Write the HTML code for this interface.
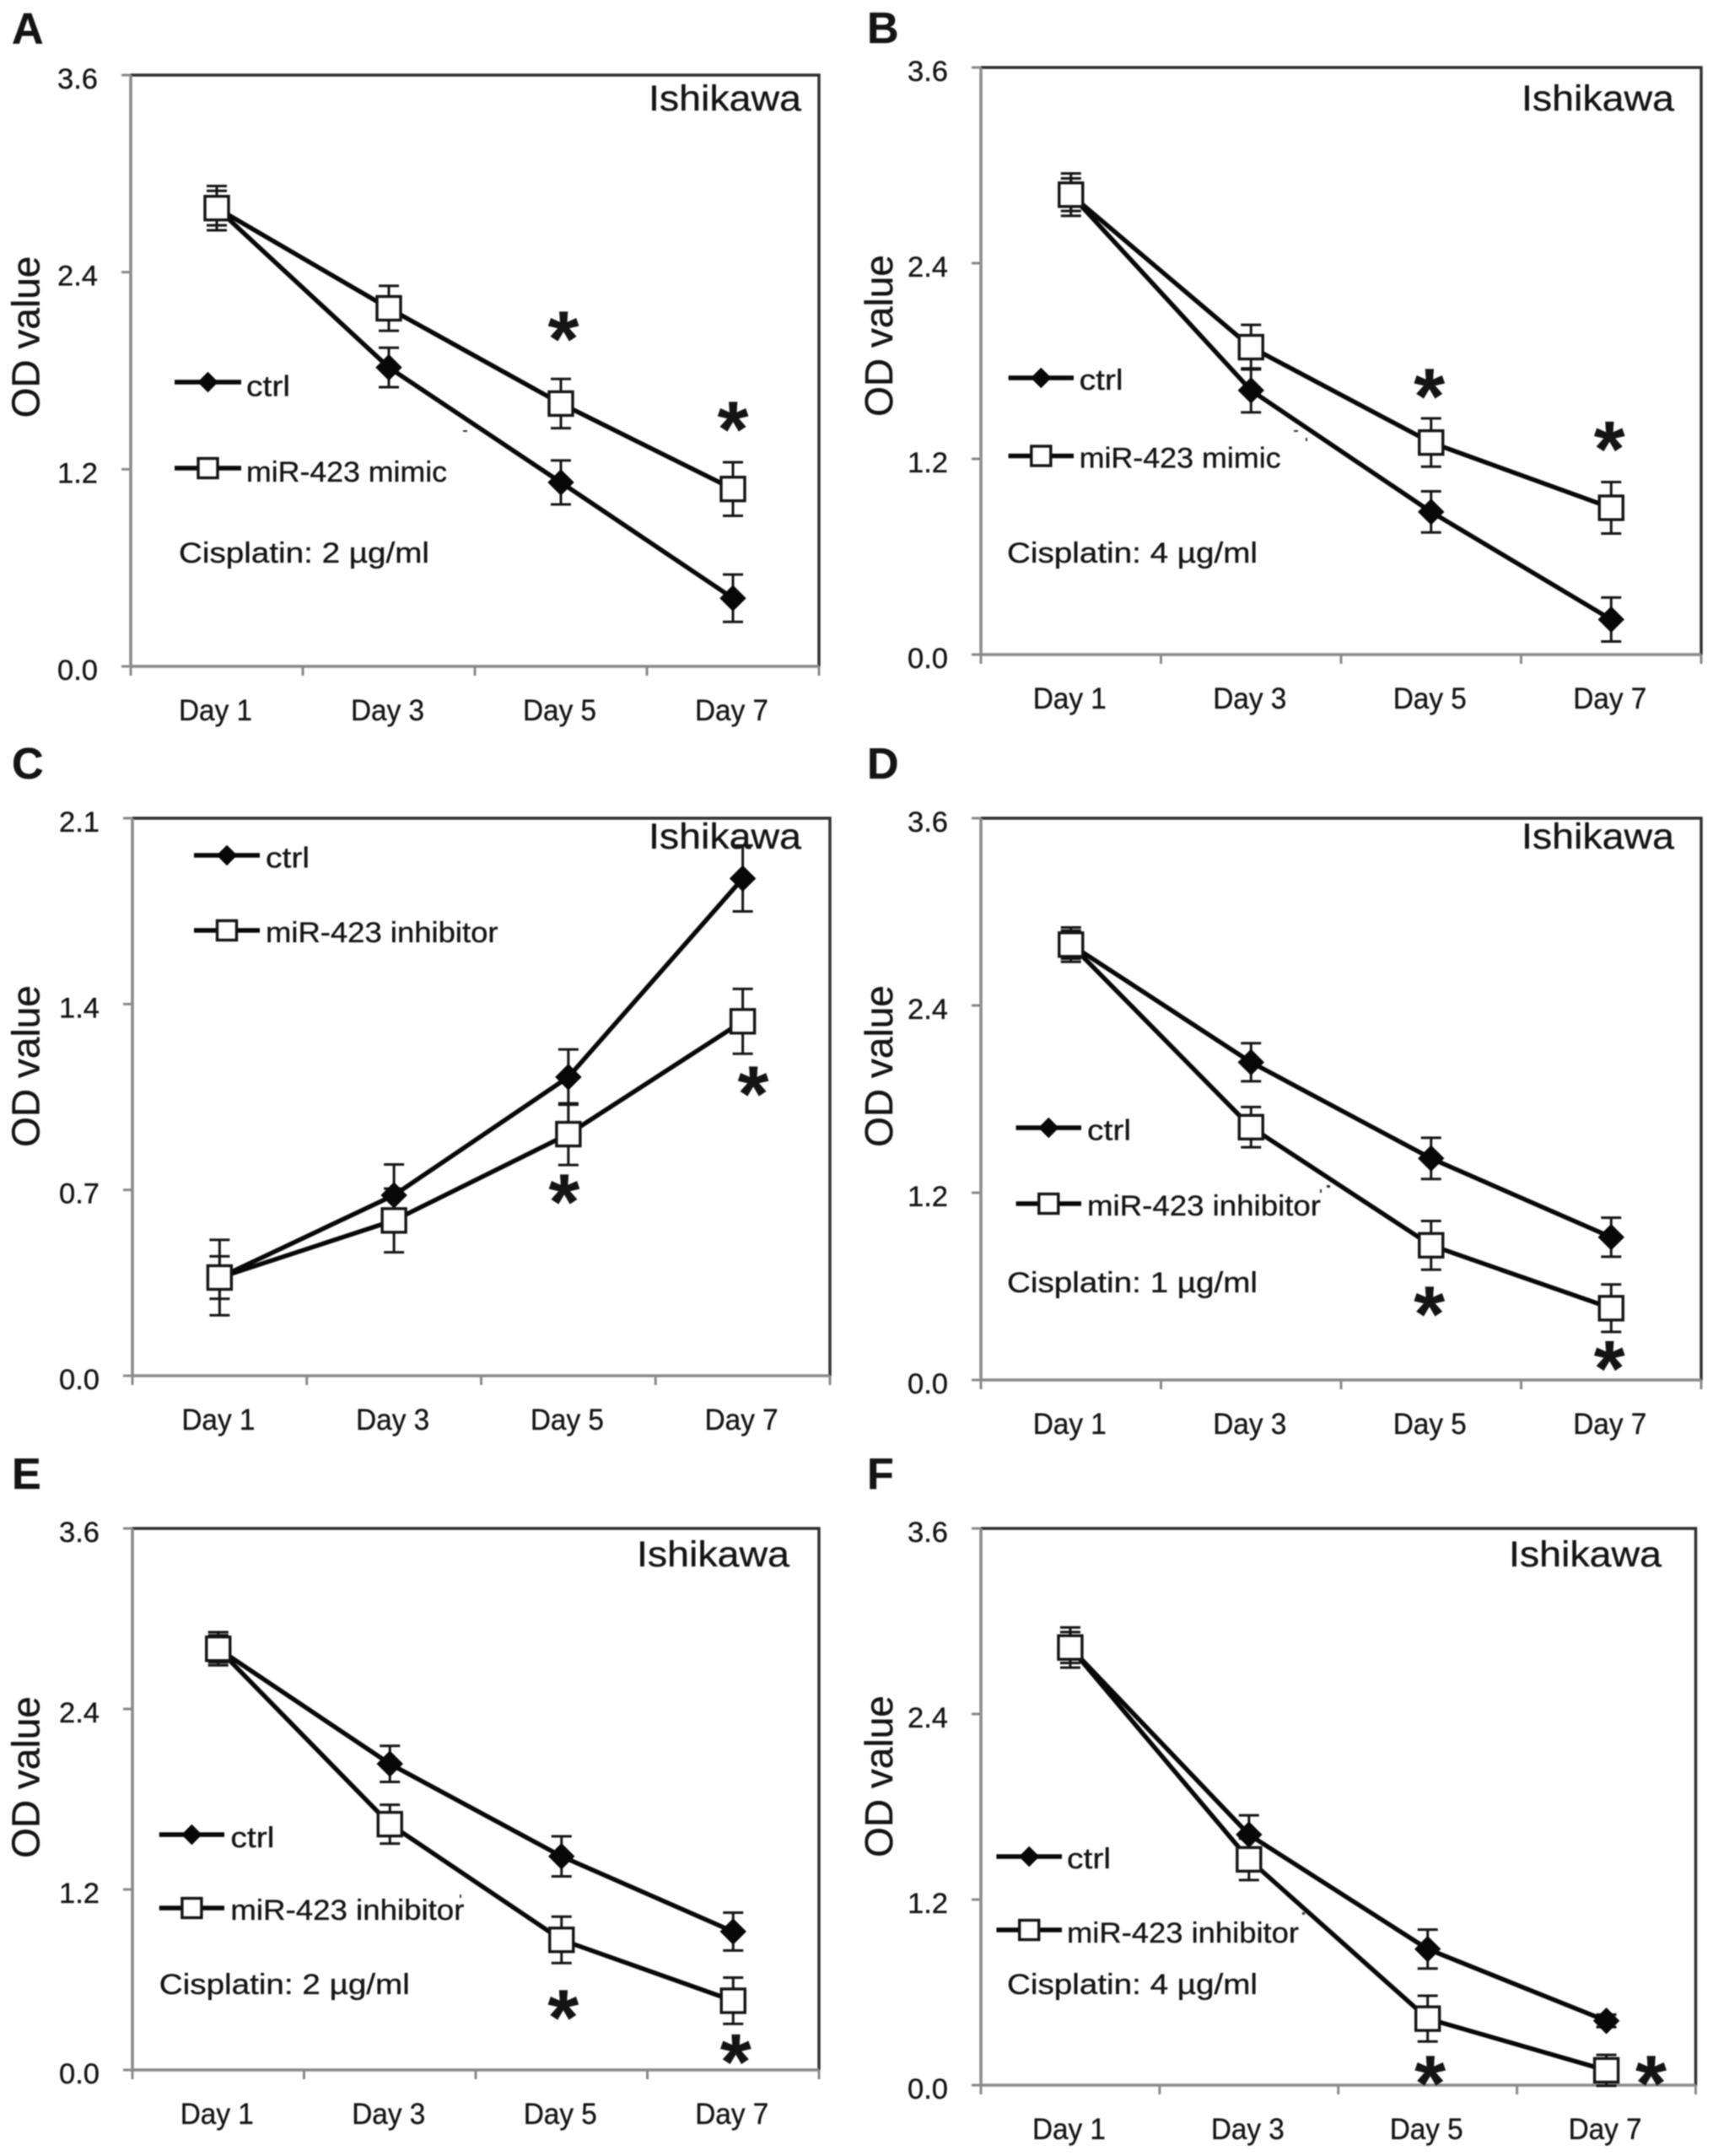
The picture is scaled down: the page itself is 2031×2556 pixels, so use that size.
<!DOCTYPE html>
<html lang="en">
<head>
<meta charset="utf-8">
<title>Ishikawa OD value panels</title>
<style>
html,body{margin:0;padding:0;background:#fff;width:2031px;height:2556px;overflow:hidden}
svg{display:block;filter:blur(0.7px)}
text{font-family:"Liberation Sans",sans-serif;fill:#141414;stroke:#141414;stroke-width:0.35px}
</style>
</head>
<body>
<svg id="figure" xmlns="http://www.w3.org/2000/svg" width="2031" height="2556" viewBox="0 0 2031 2556">
<rect x="0" y="0" width="2031" height="2556" fill="#fff"/>
<g id="stray-specks" fill="#333">
<rect x="549" y="510" width="5" height="2"/>
<rect x="1534" y="510" width="5" height="2"/>
<rect x="1548" y="519" width="2" height="4"/>
<rect x="1573" y="1405" width="4" height="3"/>
<rect x="1565" y="1410" width="2" height="4"/>
<rect x="545" y="2246" width="2" height="4"/>
<rect x="1544" y="2267" width="3" height="3"/>
<rect x="1554" y="2269" width="3" height="3"/>
</g>
</svg>
<script>
const categories = ['Day 1', 'Day 3', 'Day 5', 'Day 7'];
const ticksStandard = ['0.0', '1.2', '2.4', '3.6'];
const ticksPanelC = ['0.0', '0.7', '1.4', '2.1'];

const aCtrl = [2.79, 1.82, 1.12, 0.415];
const aCtrlErr = [0.135, 0.12, 0.134, 0.144];
const aTreat = [2.79, 2.18, 1.60, 1.08];
const aTreatErr = [0.105, 0.137, 0.15, 0.163];
const aSigDays = [2.015, 3.0];
const aSigValues = [2.07, 1.52];

const bCtrl = [2.82, 1.62, 0.875, 0.215];
const bCtrlErr = [0.13, 0.135, 0.126, 0.135];
const bTreat = [2.82, 1.885, 1.30, 0.90];
const bTreatErr = [0.10, 0.137, 0.148, 0.158];
const bSigDays = [1.99, 2.99];
const bSigValues = [1.66, 1.336];

const cCtrl = [0.37, 0.68, 1.125, 1.873];
const cCtrlErr = [0.142, 0.116, 0.104, 0.124];
const cTreat = [0.37, 0.585, 0.91, 1.335];
const cTreatErr = [0.08, 0.12, 0.116, 0.122];
const cSigDays = [1.976, 3.06];
const cSigValues = [0.702, 1.108];

const dCtrl = [2.79, 2.036, 1.42, 0.915];
const dCtrlErr = [0.11, 0.122, 0.132, 0.125];
const dTreat = [2.79, 1.62, 0.863, 0.46];
const dTreatErr = [0.09, 0.129, 0.156, 0.152];
const dSigDays = [1.99, 2.99];
const dSigValues = [0.504, 0.153];

const eCtrl = [2.80, 2.035, 1.42, 0.92];
const eCtrlErr = [0.11, 0.12, 0.133, 0.126];
const eTreat = [2.80, 1.634, 0.865, 0.46];
const eTreatErr = [0.09, 0.129, 0.154, 0.154];
const eSigDays = [2.01, 3.015];
const eSigValues = [0.431, 0.138];

const fCtrl = [2.83, 1.62, 0.88, 0.416];
const fCtrlErr = [0.13, 0.125, 0.126, 0.04];
const fTreat = [2.83, 1.46, 0.43, 0.096];
const fTreatErr = [0.10, 0.134, 0.148, 0.10];
const fSigDays = [2.014, 3.25];
const fSigValues = [0.093, 0.093];

const treatMimic = 'miR-423 mimic';
const treatInhibitor = 'miR-423 inhibitor';

const panels = [
  {id:'a', letter:'A', lx:14, ly:51.5, box:[155,971,89,790], ticks:ticksStandard, ctrl:aCtrl, ctrlErr:aCtrlErr, treat:aTreat, treatErr:aTreatErr, sigD:aSigDays, sigV:aSigValues,
   treatName:treatMimic, tw:238, title:[769,131], yTitle:[46.5,399.5],
   leg:{x1:207,x2:286,tx:292,y1:453,b1:469.5,y2:555,b2:571}, cis:{text:'Cisplatin: 2 µg/ml',x:212,b:667}},
  {id:'b', letter:'B', lx:1028, ly:51, box:[1163,2017,80,776], ticks:ticksStandard, ctrl:bCtrl, ctrlErr:bCtrlErr, treat:bTreat, treatErr:bTreatErr, sigD:bSigDays, sigV:bSigValues,
   treatName:treatMimic, tw:239, title:[1804,131], yTitle:[1058,398],
   leg:{x1:1195.6,x2:1273,tx:1279.6,y1:448,b1:462,y2:540.5,b2:554.6}, cis:{text:'Cisplatin: 4 µg/ml',x:1194,b:667}},
  {id:'c', letter:'C', lx:14, ly:923, box:[157,984,970,1631], ticks:ticksPanelC, ctrl:cCtrl, ctrlErr:cCtrlErr, treat:cTreat, treatErr:cTreatErr, sigD:cSigDays, sigV:cSigValues,
   treatName:treatInhibitor, tw:275.5, title:[769,1006], yTitle:[46.5,1264],
   leg:{x1:230,x2:308,tx:315,y1:1014,b1:1028.7,y2:1103,b2:1117}, cis:null},
  {id:'d', letter:'D', lx:1028, ly:923, box:[1163,2017,970,1636], ticks:ticksStandard, ctrl:dCtrl, ctrlErr:dCtrlErr, treat:dTreat, treatErr:dTreatErr, sigD:dSigDays, sigV:dSigValues,
   treatName:treatInhibitor, tw:277, title:[1804,1006], yTitle:[1058,1264],
   leg:{x1:1204.6,x2:1282,tx:1289,y1:1337,b1:1351.6,y2:1427,b2:1441}, cis:{text:'Cisplatin: 1 µg/ml',x:1194,b:1532}},
  {id:'e', letter:'E', lx:14, ly:1765, box:[157,971,1812,2454], ticks:ticksStandard, ctrl:eCtrl, ctrlErr:eCtrlErr, treat:eTreat, treatErr:eTreatErr, sigD:eSigDays, sigV:eSigValues,
   treatName:treatInhibitor, tw:277, title:[755,1857], yTitle:[46.5,2107],
   leg:{x1:188.8,x2:266,tx:273.4,y1:2175,b1:2190,y2:2262,b2:2276}, cis:{text:'Cisplatin: 2 µg/ml',x:188.8,b:2364}},
  {id:'f', letter:'F', lx:1028, ly:1765, box:[1163,2010.5,1812,2472], ticks:ticksStandard, ctrl:fCtrl, ctrlErr:fCtrlErr, treat:fTreat, treatErr:fTreatErr, sigD:fSigDays, sigV:fSigValues,
   treatName:treatInhibitor, tw:275, title:[1789,1857], yTitle:[1058,2106],
   leg:{x1:1181.4,x2:1259,tx:1265,y1:2201,b1:2215,y2:2288,b2:2303}, cis:{text:'Cisplatin: 4 µg/ml',x:1194,b:2364}}
];

const NS = 'http://www.w3.org/2000/svg';
const root = document.getElementById('figure');
function make(tag, attrs, parent, txt) {
  const n = document.createElementNS(NS, tag);
  for (const k in attrs) n.setAttribute(k, attrs[k]);
  if (txt !== undefined) n.textContent = txt;
  parent.appendChild(n);
  return n;
}
function line(parent, x1, y1, x2, y2, stroke, sw) {
  return make('line', {x1:x1, y1:y1, x2:x2, y2:y2, stroke:stroke, 'stroke-width':sw}, parent);
}
function drawDiamond(parent, cx, cy, r) {
  return make('polygon', {points:(cx-r)+','+cy+' '+cx+','+(cy-r)+' '+(cx+r)+','+cy+' '+cx+','+(cy+r), fill:'#080808', stroke:'#080808', 'stroke-width':1}, parent);
}
function drawSquare(parent, cx, cy, s) {
  return make('rect', {x:cx-s/2, y:cy-s/2, width:s, height:s, fill:'#fff', stroke:'#141414', 'stroke-width':3.4}, parent);
}

panels.forEach(function (p) {
  const xL = p.box[0], xR = p.box[1], yT = p.box[2], yB = p.box[3];
  const band = (xR - xL) / categories.length;
  const yMax = parseFloat(p.ticks[p.ticks.length - 1]);
  const xScale = function (i) { return xL + band * (i + 0.5); };
  const yScale = function (v) { return yB - (yB - yT) * v / yMax; };

  const g = make('g', {}, root);
  
  

  const letter = make('text', {x:p.lx, y:p.ly, 'font-size':52, 'font-weight':'bold'}, g, p.letter);
  
  

  const frame = make('path', {d:'M'+xL+' '+yT+'H'+xR+'V'+yB, fill:'none', stroke:'#2e2e2e', 'stroke-width':3.4}, g);
  
  

  const yAxis = line(g, xL, yT, xL, yB, '#8a8a8a', 3.5);
  
  

  const xAxis = line(g, xL, yB, xR, yB, '#8a8a8a', 3.5);
  
  

  p.ticks.forEach(function (t) {
    const y = yScale(parseFloat(t));
    const tk = line(g, xL - 11, y, xL, y, '#8a8a8a', 3);
    
    
    const lb = make('text', {x:xL - 39, y:y + 16, 'font-size':34, 'text-anchor':'end', textLength:48, lengthAdjust:'spacingAndGlyphs'}, g, t);
    
    
  });

  for (let i = 0; i <= categories.length; i++) {
    const x = xL + band * i;
    const tk = line(g, x, yB, x, yB + 11, '#8a8a8a', 3);
    
    
  }
  categories.forEach(function (c, i) {
    const lb = make('text', {x:xScale(i) - 45, y:yB + 64, 'font-size':35, textLength:87, lengthAdjust:'spacingAndGlyphs'}, g, c);
    
    
  });

  const yt = make('text', {x:p.yTitle[0], y:p.yTitle[1], 'font-size':46, 'text-anchor':'middle', transform:'rotate(-90 '+p.yTitle[0]+' '+p.yTitle[1]+')'}, g, 'OD value');
  
  

  const title = make('text', {x:p.title[0], y:p.title[1], 'font-size':43, textLength:181, lengthAdjust:'spacingAndGlyphs'}, g, 'Ishikawa');
  
  

  [[p.ctrl, p.ctrlErr, 'ctrl'], [p.treat, p.treatErr, 'treatment']].forEach(function (s) {
    const vals = s[0], errs = s[1], nm = s[2];
    vals.forEach(function (v, i) {
      const x = xScale(i), hi = yScale(v + errs[i]), lo = yScale(v - errs[i]);
      const e = make('g', {stroke:'#141414', 'stroke-width':3}, g);
      
      
      make('line', {x1:x, y1:hi, x2:x, y2:lo}, e);
      make('line', {x1:x - 12, y1:hi, x2:x + 12, y2:hi}, e);
      make('line', {x1:x - 12, y1:lo, x2:x + 12, y2:lo}, e);
    });
  });

  [[p.ctrl, 'ctrl'], [p.treat, 'treatment']].forEach(function (s) {
    const pts = s[0].map(function (v, i) { return xScale(i) + ',' + yScale(v); }).join(' ');
    const pl = make('polyline', {points:pts, fill:'none', stroke:'#080808', 'stroke-width':5.4, 'stroke-linejoin':'round'}, g);
    
    
  });

  p.ctrl.forEach(function (v, i) {
    const m = drawDiamond(g, xScale(i), yScale(v), 15);
    
    
  });
  p.treat.forEach(function (v, i) {
    const m = drawSquare(g, xScale(i), yScale(v), 28);
    
    
  });

  p.sigV.forEach(function (v, i) {
    const a = make('text', {x:xScale(p.sigD[i]), y:yScale(v) + 47, 'font-size':94, 'font-weight':'bold', 'text-anchor':'middle', fill:'#000', stroke:'#000'}, g, '*');
    
    
  });

  const L = p.leg, mid = (L.x1 + L.x2) / 2;
  const l1 = line(g, L.x1, L.y1, L.x2, L.y1, '#080808', 5.4);
  
  
  const d1 = drawDiamond(g, mid, L.y1, 11.5);
  
  
  const t1 = make('text', {x:L.tx, y:L.b1, 'font-size':34, textLength:52, lengthAdjust:'spacingAndGlyphs'}, g, 'ctrl');
  
  
  const l2 = line(g, L.x1, L.y2, L.x2, L.y2, '#080808', 5.4);
  
  
  const d2 = drawSquare(g, mid, L.y2, 23);
  
  
  const t2 = make('text', {x:L.tx, y:L.b2, 'font-size':34, textLength:p.tw, lengthAdjust:'spacingAndGlyphs'}, g, p.treatName);
  
  

  if (p.cis) {
    const c = make('text', {x:p.cis.x, y:p.cis.b, 'font-size':34, textLength:297, lengthAdjust:'spacingAndGlyphs'}, g, p.cis.text);
    
    
  }
});
</script>
</body>
</html>
